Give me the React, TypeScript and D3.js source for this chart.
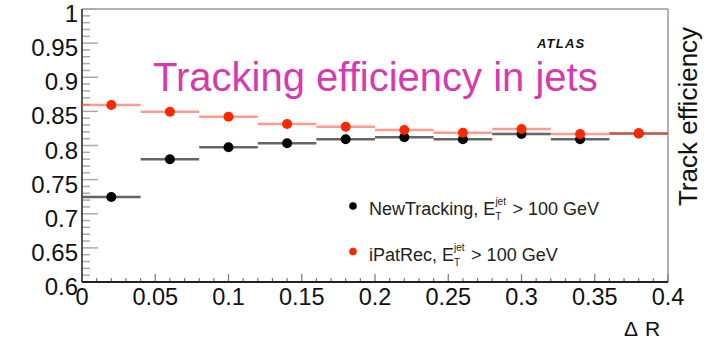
import React from "react";
import * as d3 from "d3";

const binCenters = [0.02, 0.06, 0.1, 0.14, 0.18, 0.22, 0.26, 0.3, 0.34, 0.38];
const binHalfWidth = 0.02;
const newTrackingEff = [0.7245, 0.7798, 0.7974, 0.8032, 0.8091, 0.812, 0.8091, 0.8168, 0.8091, 0.8175];
const iPatRecEff = [0.8593, 0.8495, 0.8422, 0.8315, 0.8275, 0.8227, 0.8188, 0.8242, 0.8168, 0.8179];
const yTickValues = [0.6, 0.65, 0.7, 0.75, 0.8, 0.85, 0.9, 0.95, 1];
const xTickValues = [0, 0.05, 0.1, 0.15, 0.2, 0.25, 0.3, 0.35, 0.4];
const titleText = "Tracking efficiency in jets";
const yAxisTitle = "Track efficiency";
const legendNames = ["NewTracking, E", "iPatRec, E"];

const W = 708;
const H = 342;
const L = 82;
const R = 668;
const T = 9;
const B = 282;
const FONT = "'Liberation Sans', Arial, Helvetica, sans-serif";

export default function App() {
  const x = d3.scaleLinear().domain([0, 0.4]).range([L, R]);
  const y = d3.scaleLinear().domain([0.6, 1]).range([B, T]);
  const fmt = (v: number) => String(+v.toFixed(2));

  const yMinor = d3.range(60, 101).map((v) => v / 100);
  const xMinor = d3.range(0, 41).map((v) => v / 100);

  const series = [
    { vals: newTrackingEff, dot: "#000000", bar: "#4a4a4a", barOp: 0.85 },
    { vals: iPatRecEff, dot: "#ff2600", bar: "#ff5a45", barOp: 0.6 },
  ];

  return (
    <svg
      width={W}
      height={H}
      style={{ position: "absolute", left: 0, top: 0, background: "#fff" }}
      fontFamily={FONT}
    >
      <rect x={0} y={0} width={W} height={H} fill="#fff" />
      {/* frame */}
      <line x1={L} y1={T} x2={R} y2={T} stroke="#999" strokeWidth={1.5} />
      <line x1={R} y1={T} x2={R} y2={B} stroke="#999" strokeWidth={1.5} />

      {/* y minor/major ticks */}
      {yMinor.map((v, i) => {
        const major = Math.round(v * 100) % 5 === 0;
        return (
          <line
            key={"ym" + i}
            x1={L}
            x2={L + (major ? 16 : 8)}
            y1={y(v)}
            y2={y(v)}
            stroke="#aaa"
            strokeWidth={1.5}
          />
        );
      })}
      {/* x minor/major ticks */}
      {xMinor.map((v, i) => {
        const major = Math.round(v * 100) % 5 === 0;
        return (
          <line
            key={"xm" + i}
            x1={x(v)}
            x2={x(v)}
            y1={B}
            y2={B - (major ? 8 : 4)}
            stroke="#777"
            strokeWidth={1.2}
          />
        );
      })}
      <line x1={L} y1={T} x2={L} y2={B} stroke="#444" strokeWidth={1.8} />
      <line x1={L} y1={B} x2={R} y2={B} stroke="#222" strokeWidth={1.8} />

      {/* y tick labels */}
      {yTickValues.map((v) => (
        <text key={"yl" + v} x={78} y={y(v) + 13} fontSize={24} textAnchor="end" fill="#111">
          {fmt(v)}
        </text>
      ))}
      {/* x tick labels */}
      {xTickValues.map((v) => (
        <text key={"xl" + v} x={x(v)} y={305} fontSize={23.5} textAnchor="middle" fill="#111">
          {fmt(v)}
        </text>
      ))}

      {/* data */}
      {series.map((s, si) => (
        <g key={"s" + si}>
          {s.vals.map((v, i) => (
            <line
              key={"b" + i}
              x1={x(binCenters[i] - binHalfWidth)}
              x2={x(binCenters[i] + binHalfWidth)}
              y1={y(v)}
              y2={y(v)}
              stroke={s.bar}
              strokeOpacity={s.barOp}
              strokeWidth={2.5}
            />
          ))}
          {s.vals.map((v, i) => (
            <circle key={"c" + i} cx={x(binCenters[i])} cy={y(v)} r={5} fill={s.dot} />
          ))}
        </g>
      ))}

      {/* title */}
      <text x={153} y={91} fontSize={40} fill="#d63aae">
        {titleText}
      </text>
      <text
        x={537}
        y={48}
        fontSize={13}
        fontWeight="bold"
        fontStyle="italic"
        letterSpacing={1.2}
        fill="#111"
      >
        ATLAS
      </text>

      {/* legend */}
      {legendNames.map((name, i) => {
        const cy = i === 0 ? 206 : 251.5;
        const base = cy + 9;
        return (
          <g key={"lg" + i}>
            <circle cx={353} cy={cy} r={3.8} fill={series[i].dot} />
            <text x={369} y={base} fontSize={18} fill="#222">
              {name}
              <tspan fontSize={10} dy={-10}>jet</tspan>
              <tspan fontSize={10} dx={-10.6} dy={15}>T</tspan>
              <tspan fontSize={18} dx={11} dy={-5}>&gt; 100 GeV</tspan>
            </text>
          </g>
        );
      })}

      {/* axis titles */}
      <text
        transform={`translate(697,${(T + 208) / 2 + 8}) rotate(-90)`}
        fontSize={26}
        textAnchor="middle"
        fill="#111"
      >
        {yAxisTitle}
      </text>
      <text x={624} y={336} fontSize={21} fill="#111">
        Δ<tspan dx={7}>R</tspan>
      </text>
    </svg>
  );
}
